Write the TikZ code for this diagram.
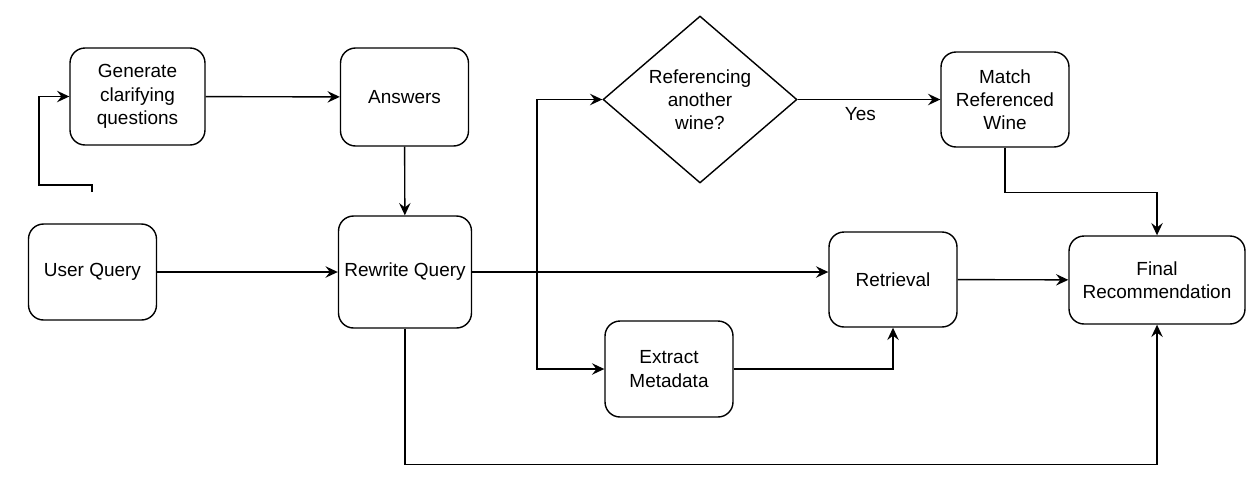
\documentclass[tikz,border=0pt]{standalone}
\usepackage{fontspec}
\setmainfont{Liberation Sans}
\usetikzlibrary{shapes.geometric, arrows.meta}
\tikzstyle{process} = [rectangle, rounded corners=0.3cm, minimum width=2.56cm, minimum height=1.92cm, align=center, draw=black, thick, font=\fontsize{10.8pt}{13.2pt}\selectfont]
\tikzstyle{decision} = [diamond, aspect=1.16, inner sep=0pt, minimum width=3.88cm, minimum height=3.34cm, align=center, draw=black, thick, font=\fontsize{10.8pt}{13.2pt}\selectfont]
\tikzstyle{arrow} = [thick,->,>={Stealth[length=7pt,width=6.5pt,inset=2.5pt]}]

\begin{document}
\begin{tikzpicture}[x=0.02cm, y=-0.02cm]
    \useasboundingbox (0,0) rectangle (1260,498);

    \node (generate) [process, minimum width=2.7cm, minimum height=1.94cm] at (137.5,96.5) {Generate\\clarifying\\questions};
    \node (answers) [process, minimum height=1.96cm] at (404.5,97) {Answers};
    \node (userquery) [process] at (92.5,272) {User Query};
    \node (rewrite) [process, minimum height=2.24cm] at (405,272) {Rewrite Query};
    \node (decision) [decision] at (700,99.5) {Referencing\\another\\wine?};
    \node (match) [process, minimum height=1.9cm] at (1005,99.5) {Match\\Referenced\\Wine};
    \node (retrieval) [process, minimum height=1.9cm] at (893,279.5) {Retrieval};
    \node (extract) [process] at (669,369) {Extract\\Metadata};
    \node (final) [process, minimum width=3.52cm, minimum height=1.76cm] at (1157,280) {Final\\Recommendation};

    \coordinate (loopstart) at (92,192);
    \coordinate (split) at (537,272);

    \draw [arrow] (loopstart) |- (39,185) |- (generate.west);
    \draw [arrow] (generate) -- (answers);
    \draw [arrow] (answers) -- (rewrite);
    \draw [arrow] (userquery) -- (rewrite);
    \draw [arrow] (rewrite.east) -- (retrieval.west |- rewrite.east);
    \draw [arrow] (split) |- (decision.west);
    \draw [arrow] (split) |- (extract.west);
    \draw [arrow] (decision) -- node[pos=0.44, anchor=north, yshift=-0.02cm, font=\fontsize{10.8pt}{13.2pt}\selectfont] {Yes} (match);
    \draw [arrow] (match.south) -- ++(0,45) -| (final.north);
    \draw [arrow] (retrieval) -- (final);
    \draw [arrow] (extract.east) -| (retrieval.south);
    \draw [arrow] (rewrite.south) -- ++(0,136) -| (final.south);

\end{tikzpicture}
\end{document}
